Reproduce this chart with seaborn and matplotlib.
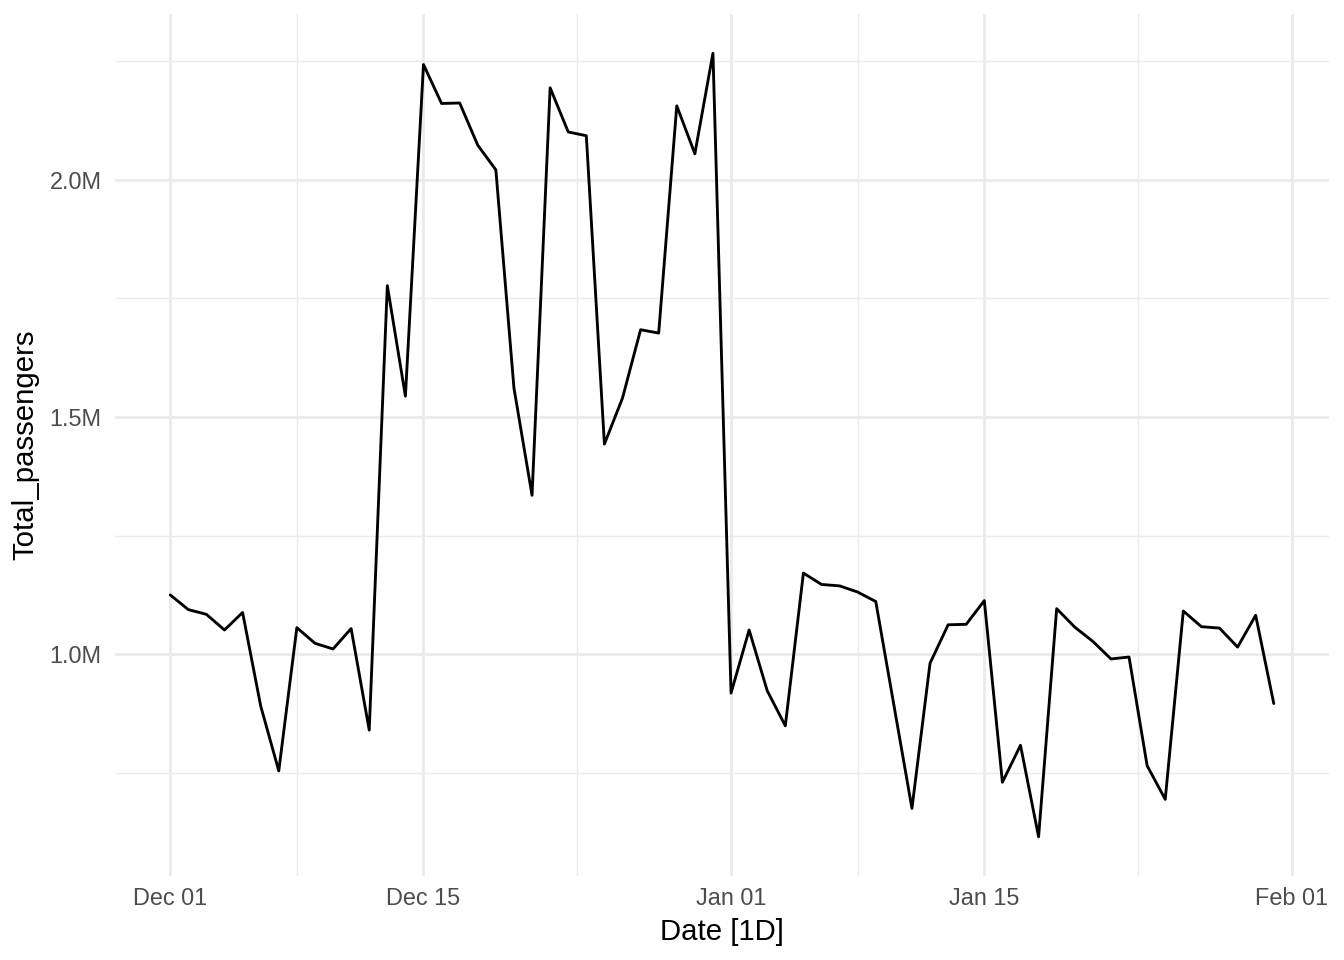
import numpy as np
import pandas as pd
import matplotlib
matplotlib.use("Agg")
import matplotlib.pyplot as plt
import matplotlib.dates as mdates
from matplotlib.ticker import FuncFormatter, FixedLocator
import seaborn as sns

# ---- data (millions of passengers per day) ----
start_date = "2023-12-01"
dec_values = [1.125, 1.094, 1.084, 1.051, 1.088, 0.891, 0.754, 1.056, 1.023, 1.011,
              1.054, 0.840, 1.777, 1.544, 2.243, 2.161, 2.162, 2.073, 2.021, 1.561,
              1.335, 2.194, 2.101, 2.093, 1.443, 1.540, 1.684, 1.677, 2.156, 2.055,
              2.267]
jan_values = [0.918, 1.051, 0.923, 0.849, 1.171, 1.147, 1.144, 1.131, 1.111, 0.893,
              0.675, 0.981, 1.062, 1.063, 1.113, 0.730, 0.808, 0.615, 1.096, 1.057,
              1.027, 0.990, 0.994, 0.765, 0.694, 1.091, 1.058, 1.055, 1.015, 1.082,
              0.896]
x_major = ["2023-12-01", "2023-12-15", "2024-01-01", "2024-01-15", "2024-02-01"]
y_major = [1.0e6, 1.5e6, 2.0e6]
y_minor = [0.75e6, 1.25e6, 1.75e6, 2.25e6]

values = np.array(dec_values + jan_values) * 1e6
dates = pd.date_range(start_date, periods=len(values), freq="D")
df = pd.DataFrame({"Date": dates, "Total_passengers": values})

sns.set_theme(style="white")
plt.rcParams["font.family"] = ["Liberation Sans", "DejaVu Sans"]

fig = plt.figure(figsize=(7, 5), dpi=192)
ax = fig.add_axes([0.0856, 0.0875, 0.9888 - 0.0856, 0.9854 - 0.0875])

sns.lineplot(data=df, x="Date", y="Total_passengers", color="black",
             linewidth=1.07, ax=ax)

# limits with 5% expansion like ggplot
xnum = mdates.date2num(df["Date"])
xr = xnum.max() - xnum.min()
ax.set_xlim(xnum.min() - 0.05 * xr, xnum.max() + 0.05 * xr)
yr = values.max() - values.min()
ax.set_ylim(values.min() - 0.05 * yr, values.max() + 0.05 * yr)

major_num = mdates.date2num(pd.to_datetime(x_major))
minor_num = (major_num[:-1] + major_num[1:]) / 2
ax.xaxis.set_major_locator(FixedLocator(major_num))
ax.xaxis.set_minor_locator(FixedLocator(minor_num))
ax.xaxis.set_major_formatter(mdates.DateFormatter("%b %d"))
ax.yaxis.set_major_locator(FixedLocator(y_major))
ax.yaxis.set_minor_locator(FixedLocator(y_minor))
ax.yaxis.set_major_formatter(FuncFormatter(lambda v, p: f"{v/1e6:.1f}M"))

grid_col = "#EBEBEB"
ax.grid(which="major", color=grid_col, linewidth=1.07)
ax.grid(which="minor", color=grid_col, linewidth=0.53)
ax.set_axisbelow(True)
for s in ax.spines.values():
    s.set_visible(False)

ax.tick_params(axis="both", which="both", length=0, labelsize=8.8,
               labelcolor="#4D4D4D")
ax.tick_params(axis="x", pad=4)
ax.tick_params(axis="y", pad=5)

ax.set_xlabel("Date [1D]", fontsize=11, color="black", labelpad=3)
ax.set_ylabel("Total_passengers", fontsize=11, color="black", labelpad=4)

fig.savefig("out.png", dpi=192, facecolor="white")
